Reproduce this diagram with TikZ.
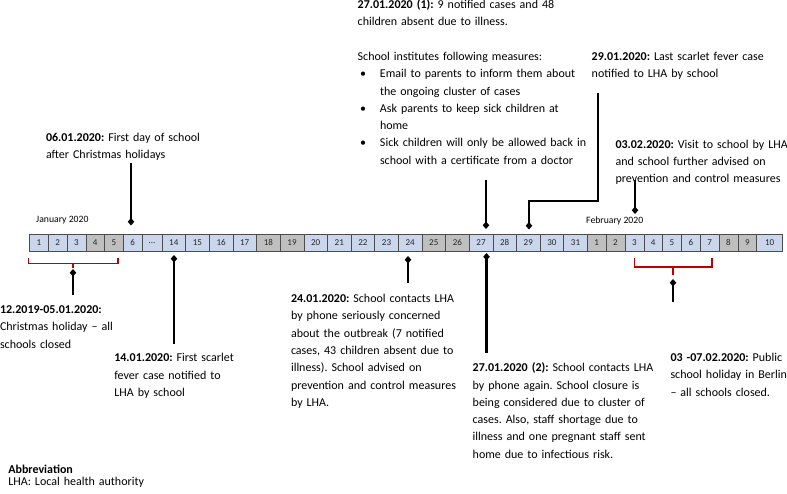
\documentclass[tikz,border=0pt]{standalone}
\usepackage{fontspec}
\setmainfont{Carlito}
\usetikzlibrary{arrows.meta}
\definecolor{cellblue}{HTML}{C9D6EC}
\definecolor{cellgray}{HTML}{BFBFBF}
\definecolor{bracketred}{HTML}{C00000}
\newcommand\jline[1]{\makebox[\linewidth][s]{#1}\\}
\newcommand\celldots{...}
\frenchspacing
\begin{document}
\begin{tikzpicture}[x=1pt,y=-1pt,
  cell/.style={draw=black!70, line width=0.6pt, inner sep=0pt, outer sep=0pt,
    minimum height=16.5pt, font=\fontsize{9}{10}\selectfont, text=black!85},
  txt/.style={font=\fontsize{12}{17.3}\selectfont, inner sep=0pt, outer sep=0pt,
    align=left, anchor=base west, text width=#1},
  txt/.default=250pt,
  month/.style={font=\fontsize{9.7}{11}\selectfont, inner sep=0pt, anchor=base west},
  darr/.style={line width=2.2pt, -{Diamond[width=6.5pt,length=7.5pt]}},
  brace/.style={draw=bracketred, line width=1.6pt}]
\useasboundingbox (0,0) rectangle (787,493);
\fill[white] (0,0) rectangle (787,493);

% timeline cells
\foreach \l/\r/\t/\f/\n in {
  29.3/48.3/1/cellblue/j1, 48.3/67/2/cellblue/j2, 67/86/3/cellblue/j3,
  86/104.3/4/cellgray/j4, 104.3/123.3/5/cellgray/j5, 123.3/142/6/cellblue/j6,
  142/162/\celldots/cellblue/jdots,
  162/185.6/14/cellblue/j14, 185.6/209.3/15/cellblue/j15, 209.3/232.9/16/cellblue/j16,
  232.9/256.5/17/cellblue/j17, 256.5/280.2/18/cellgray/j18, 280.2/303.8/19/cellgray/j19,
  303.8/327.4/20/cellblue/j20, 327.4/351.1/21/cellblue/j21, 351.1/374.7/22/cellblue/j22,
  374.7/398.3/23/cellblue/j23, 398.3/421.9/24/cellblue/j24, 421.9/445.6/25/cellgray/j25,
  445.6/469.2/26/cellgray/j26, 469.2/492.8/27/cellblue/j27, 492.8/516.5/28/cellblue/j28,
  516.5/540.1/29/cellblue/j29, 540.1/563.7/30/cellblue/j30, 563.7/587.3/31/cellblue/j31,
  587.3/606.1/1/cellgray/f1, 606.1/624.9/2/cellgray/f2, 624.9/643.8/3/cellblue/f3,
  643.8/662.6/4/cellblue/f4, 662.6/681.4/5/cellblue/f5, 681.4/700.2/6/cellblue/f6,
  700.2/719/7/cellblue/f7, 719/737.9/8/cellgray/f8, 737.9/756.7/9/cellgray/f9,
  756.7/782.7/10/cellblue/f10}
  \node[cell, fill=\f, minimum width={(\r-\l)*1pt}] (\n) at ({(\l+\r)/2},242.75) {\t};

\node[month] (jan) at (36,222.5) {January 2020};
\node[month] (feb) at (586,223) {February 2020};

% texts above
\node[txt] (t06) at (46,141.5) {\textbf{06.01.2020:} First day of school\\after Christmas holidays};
\node[txt] (t27a) at (357.7,8.5) {\textbf{27.01.2020 (1):} 9 notified cases and 48\\
children absent due to illness.\\[17.3pt]
School institutes following measures:\\
\hspace*{2.3pt}\makebox[20pt][l]{\textbullet}Email to parents to inform them about\\
\hspace*{22.3pt}the ongoing cluster of cases\\
\hspace*{2.3pt}\makebox[20pt][l]{\textbullet}Ask parents to keep sick children at\\
\hspace*{22.3pt}home\\
\hspace*{2.3pt}\makebox[20pt][l]{\textbullet}Sick children will only be allowed back in\\
\hspace*{22.3pt}school with a certificate from a doctor};
\node[txt] (t29) at (591.7,60.5) {\textbf{29.01.2020:} Last scarlet fever case\\notified to LHA by school};
\node[txt] (t0302) at (615.5,148) {\textbf{03.02.2020:} Visit to school by LHA\\and school further advised on\\prevention and control measures};

% texts below
\node[txt] (thol) at (0,313.5) {\textbf{12.2019-05.01.2020:}\\Christmas holiday – all\\schools closed};
\node[txt] (t14) at (114.3,361.7) {\textbf{14.01.2020:} First scarlet\\fever case notified to\\LHA by school};
\node[txt=170.7pt] (t24) at (291,302.5) {\jline{\textbf{24.01.2020:} School contacts LHA}%
\jline{by phone seriously concerned}%
\jline{about the outbreak (7 notified}%
\jline{cases, 43 children absent due to}%
\jline{illness). School advised on}%
\jline{prevention and control measures}%
by LHA.};
\node[txt=188pt] (t27b) at (472.7,371.7) {\jline{\textbf{27.01.2020 (2):} School contacts LHA}%
\jline{by phone again. School closure is}%
\jline{being considered due to cluster of}%
\jline{cases. Also, staff shortage due to}%
\jline{illness and one pregnant staff sent}%
home due to infectious risk.};
\node[txt] (tfeb) at (670.5,361.5) {\textbf{03 -07.02.2020:} Public\\school holiday in Berlin\\– all schools closed.};
\node[txt, font=\fontsize{12}{12}\selectfont] (abbr) at (8.3,473) {\textbf{Abbreviation}\\LHA: Local health authority};

% brackets
\draw[brace] (28.5,257.5) -- (28.5,263.3) -- (118,263.3) -- (118,257.5);
\draw[brace] (73,263.3) -- (73,267.5);
\draw[brace] (634.3,258) -- (634.3,266.7) -- (711.7,266.7) -- (711.7,258);
\draw[brace] (672.7,266.7) -- (672.7,275);

% arrow end points
\coordinate (a06s) at (131,163);   \coordinate (a06e) at (131,225.5);
\coordinate (a27s) at (486,180);   \coordinate (a27e) at (486,229);
\coordinate (a29s) at (598,93);    \coordinate (a29m1) at (598,201);
\coordinate (a29m2) at (529,201);  \coordinate (a29e) at (529,229.5);
\coordinate (a03s) at (635,180);   \coordinate (a03e) at (635,214);
\coordinate (ahs) at (73,295);     \coordinate (ahe) at (73,269);
\coordinate (a14s) at (174,344);   \coordinate (a14e) at (174,255);
\coordinate (a24s) at (408,283);   \coordinate (a24e) at (408,256);
\coordinate (a27bs) at (486.5,353);\coordinate (a27be) at (486.5,253);
\coordinate (afs) at (673,302);    \coordinate (afe) at (673,279);

\draw[darr] (a06s) -- (a06e);
\draw[darr] (a27s) -- (a27e);
\draw[darr] (a29s) -- (a29m1) -- (a29m2) -- (a29e);
\draw[darr] (a03s) -- (a03e);
\draw[darr] (ahs) -- (ahe);
\draw[darr] (a14s) -- (a14e);
\draw[darr] (a24s) -- (a24e);
\draw[darr] (a27bs) -- (a27be);
\draw[darr] (afs) -- (afe);
\end{tikzpicture}
\end{document}
